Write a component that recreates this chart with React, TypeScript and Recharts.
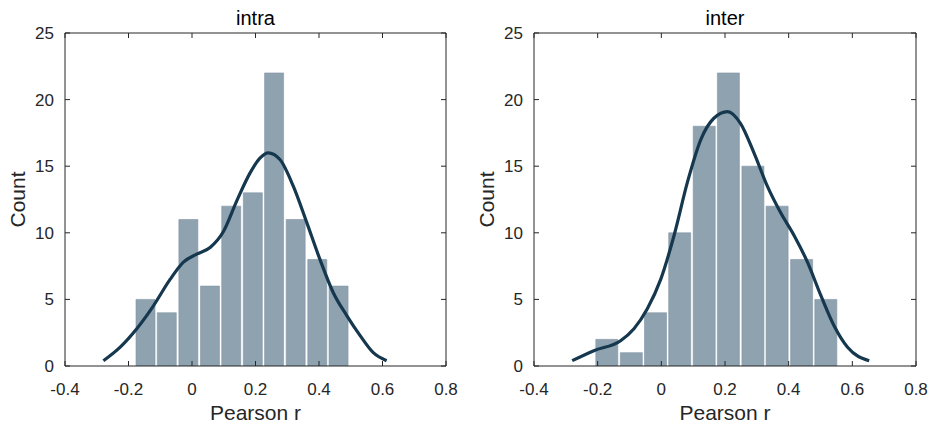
import React from "react";
import { ComposedChart, Bar, Line, XAxis, YAxis } from "recharts";

// histogram bin centres (Pearson r) and counts
const intraBins = [-0.146, -0.079, -0.011, 0.057, 0.124, 0.192, 0.259, 0.327, 0.395, 0.462];
const intraCounts = [5, 4, 11, 6, 12, 13, 22, 11, 8, 6];
const interBins = [-0.171, -0.094, -0.018, 0.058, 0.135, 0.211, 0.288, 0.364, 0.441, 0.517];
const interCounts = [2, 1, 4, 10, 18, 22, 15, 12, 8, 5];

// kernel density curves (scaled to counts)
const intraKdeR = [-0.279, -0.227, -0.174, -0.122, -0.069, -0.027, 0.015, 0.057, 0.099, 0.141, 0.183, 0.214, 0.24, 0.277, 0.319, 0.361, 0.403, 0.445, 0.487, 0.529, 0.571, 0.613];
const intraKdeY = [0.4, 1.4, 2.8, 4.5, 6.5, 7.8, 8.4, 8.9, 10.1, 12.4, 14.5, 15.6, 16.0, 15.5, 13.5, 10.8, 8.0, 5.5, 3.8, 2.3, 1.0, 0.4];
const interKdeR = [-0.28, -0.212, -0.128, -0.086, -0.044, -0.002, 0.04, 0.082, 0.124, 0.165, 0.208, 0.249, 0.291, 0.333, 0.375, 0.417, 0.459, 0.501, 0.543, 0.585, 0.653];
const interKdeY = [0.4, 1.15, 1.9, 2.8, 4.3, 6.5, 9.8, 13.8, 17.0, 18.6, 19.1, 18.2, 16.0, 13.5, 11.5, 9.8, 7.8, 5.3, 3.0, 1.4, 0.4];

const xTicks = [-0.4, -0.2, 0, 0.2, 0.4, 0.6, 0.8];
const yTicks = [0, 5, 10, 15, 20, 25];

const AXIS = "#262626";
const BAR = "#8fa2b0";
const CURVE = "#16384f";
const FONT = "'Liberation Sans', Arial, Helvetica, sans-serif";

const countLabel = (props: any) => {
    const vb = props.viewBox || {};
    const cx = vb.x + 17;
    const cy = vb.y + vb.height / 2;
    return (
        <text
            x={cx}
            y={cy}
            transform={`rotate(-90 ${cx} ${cy})`}
            textAnchor="middle"
            dominantBaseline="central"
            fill={AXIS}
            fontSize={21}
            fontFamily={FONT}
        >
            Count
        </text>
    );
};

const noLabel = () => "";

type PanelProps = {
    title: string;
    bins: number[];
    counts: number[];
    kdeR: number[];
    kdeY: number[];
    barSize: number;
    width: number;
    right: number;
};

function Panel({ title, bins, counts, kdeR, kdeY, barSize, width, right }: PanelProps) {
    const bars = bins.map((r, i) => ({ r, count: counts[i] }));
    const curve = kdeR.map((r, i) => ({ r, density: kdeY[i] }));

    // top / right axes are 1px thick: recharts skips axes with zero size
    return (
        <ComposedChart
            width={width}
            height={426}
            data={bars}
            margin={{ top: 32, right: right - 1, bottom: 0, left: 0 }}
        >
            <XAxis
                type="number"
                dataKey="r"
                domain={[-0.4, 0.8]}
                ticks={xTicks}
                allowDataOverflow
                height={60}
                tickSize={-5}
                tickMargin={22}
                tickFormatter={(v: number) => String(v)}
                tick={{ fill: AXIS, fontSize: 17, fontFamily: FONT }}
                axisLine={{ stroke: AXIS }}
                tickLine={{ stroke: AXIS }}
                label={{
                    value: "Pearson r",
                    position: "insideBottom",
                    offset: 6,
                    fill: AXIS,
                    fontSize: 21,
                    fontFamily: FONT,
                }}
            />
            <XAxis
                xAxisId="top"
                orientation="top"
                type="number"
                dataKey="r"
                domain={[-0.4, 0.8]}
                ticks={xTicks}
                allowDataOverflow
                height={1}
                tickSize={-5}
                tickFormatter={noLabel}
                axisLine={{ stroke: AXIS }}
                tickLine={{ stroke: AXIS }}
                label={{
                    value: title,
                    position: "top",
                    offset: 7,
                    fill: "#000",
                    fontSize: 20,
                    fontFamily: FONT,
                }}
            />
            <YAxis
                type="number"
                domain={[0, 25]}
                ticks={yTicks}
                allowDataOverflow
                width={65}
                tickSize={-5}
                tickMargin={16}
                tick={{ fill: AXIS, fontSize: 17, fontFamily: FONT }}
                axisLine={{ stroke: AXIS }}
                tickLine={{ stroke: AXIS }}
                label={countLabel}
            />
            <YAxis
                yAxisId="right"
                orientation="right"
                type="number"
                domain={[0, 25]}
                ticks={yTicks}
                allowDataOverflow
                width={1}
                tickSize={-5}
                tickFormatter={noLabel}
                axisLine={{ stroke: AXIS }}
                tickLine={{ stroke: AXIS }}
            />
            <Bar
                dataKey="count"
                fill={BAR}
                stroke="#8294a3"
                strokeWidth={0.6}
                barSize={barSize}
                isAnimationActive={false}
            />
            <Line
                xAxisId="top"
                yAxisId="right"
                data={curve}
                dataKey="density"
                type="monotone"
                stroke={CURVE}
                strokeWidth={3.2}
                dot={false}
                activeDot={false}
                isAnimationActive={false}
            />
        </ComposedChart>
    );
}

export default function App() {
    return (
        <div
            style={{
                position: "absolute",
                left: 0,
                top: 0,
                width: 935,
                height: 426,
                background: "#fff",
                overflow: "hidden",
            }}
        >
            <div style={{ position: "absolute", left: 0, top: 0 }}>
                <Panel
                    title="intra"
                    bins={intraBins}
                    counts={intraCounts}
                    kdeR={intraKdeR}
                    kdeY={intraKdeY}
                    barSize={19}
                    width={470}
                    right={24}
                />
            </div>
            <div style={{ position: "absolute", left: 469, top: 0 }}>
                <Panel
                    title="inter"
                    bins={interBins}
                    counts={interCounts}
                    kdeR={interKdeR}
                    kdeY={interKdeY}
                    barSize={22}
                    width={466}
                    right={19}
                />
            </div>
        </div>
    );
}
